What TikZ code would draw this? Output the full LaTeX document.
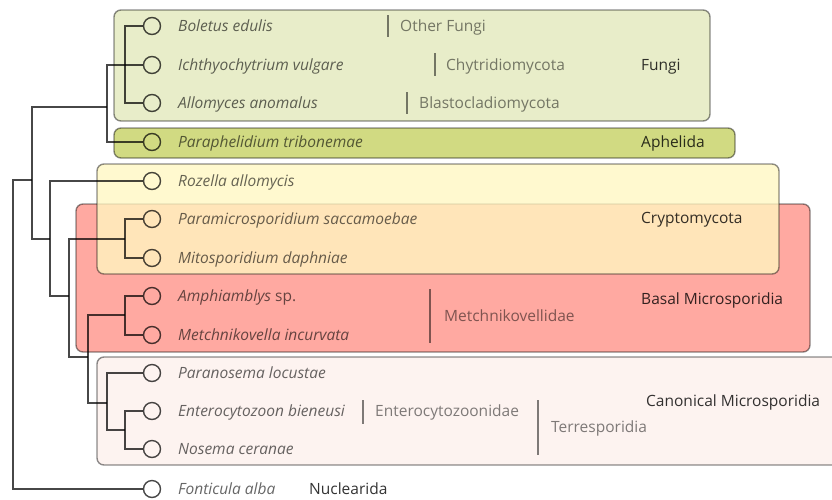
\documentclass[tikz,border=0pt]{standalone}
\usepackage{fontspec}
\setmainfont{Open Sans}
\definecolor{fungiC}{HTML}{E8EDC9}
\definecolor{aphC}{HTML}{D1DA82}
\definecolor{yelC}{HTML}{FFF7C1}
\definecolor{redC}{HTML}{FFA9A1}
\definecolor{canC}{HTML}{FDF3F0}
\begin{document}
\begin{tikzpicture}[x=1pt,y=-1pt,
  grp/.style={draw=black,draw opacity=0.45,line width=1.4pt,rounded corners=7pt},
  leaf/.style={circle,draw=black,draw opacity=0.72,line width=1.4pt,minimum size=17pt,inner sep=0pt},
  br/.style={draw=black,draw opacity=0.72,line width=1.4pt},
  bar/.style={draw=black,draw opacity=0.5,line width=1.4pt},
  sp/.style={anchor=base west,inner sep=0pt,font=\fontsize{15.5}{18}\selectfont\itshape,text=black,text opacity=0.6},
  sub/.style={anchor=base west,inner sep=0pt,font=\fontsize{15.5}{18}\selectfont,text=black,text opacity=0.5},
  gl/.style={anchor=base west,inner sep=0pt,font=\fontsize{15.5}{18}\selectfont,text=black,text opacity=0.8}]
\useasboundingbox (0,0) rectangle (832,499);
\clip (0,0) rectangle (832,499);
% group boxes
\path[grp,fill=redC] (76,204) rectangle (810,352);
\path[grp,fill=canC] (97,357) rectangle (850,465);
\path[grp,fill=fungiC] (114,10) rectangle (710,121);
\path[grp,fill=aphC] (114,128) rectangle (735,158);
\path[grp,fill=yelC,fill opacity=0.78] (97,164) rectangle (779,274);
% leaves
\node[leaf] (bol) at (152,26) {};
\node[leaf] (ich) at (152,65) {};
\node[leaf] (all) at (152,103) {};
\node[leaf] (par) at (152,142) {};
\node[leaf] (roz) at (152,181) {};
\node[leaf] (pms) at (152,219) {};
\node[leaf] (mit) at (152,258) {};
\node[leaf] (amp) at (152,296) {};
\node[leaf] (met) at (152,335) {};
\node[leaf] (pnl) at (152,373) {};
\node[leaf] (ent) at (152,411) {};
\node[leaf] (nos) at (152,449) {};
\node[leaf] (fon) at (152,489) {};
% internal points
\coordinate (n1) at (125,65);
\coordinate (n2) at (107,107);
\coordinate (n3) at (32,180);
\coordinate (root) at (13,180);
\coordinate (n4) at (50,239);
\coordinate (n5) at (69,296);
\coordinate (n6) at (125,239);
\coordinate (n7) at (88,357);
\coordinate (n8) at (125,315);
\coordinate (n9) at (107,403);
\coordinate (n10) at (125,430);
% branches
\draw[br] (bol.west) -| (n1) |- (all.west);
\draw[br] (ich.west) -| (n2) |- (par.west);
\draw[br] (n2) -| (n3) |- (n4);
\draw[br] (n3) -- (root) |- (fon.west);
\draw[br] (roz.west) -| (n4) |- (n5);
\draw[br] (n6) -| (n5) |- (n7);
\draw[br] (pms.west) -| (n6) |- (mit.west);
\draw[br] (n8) -| (n7) |- (n9);
\draw[br] (amp.west) -| (n8) |- (met.west);
\draw[br] (pnl.west) -| (n9) |- (n10);
\draw[br] (ent.west) -| (n10) |- (nos.west);
% species labels
\node[sp] (tbol) at (178,31) {Boletus edulis};
\node[sp] (tich) at (178,70) {Ichthyochytrium vulgare};
\node[sp] (tall) at (178,108) {Allomyces anomalus};
\node[sp] (tpar) at (178,147) {Paraphelidium tribonemae};
\node[sp] (troz) at (178,186) {Rozella allomycis};
\node[sp] (tpms) at (178,224) {Paramicrosporidium saccamoebae};
\node[sp] (tmit) at (178,263) {Mitosporidium daphniae};
\node[sp] (tamp) at (178,301) {Amphiamblys {\upshape sp.}};
\node[sp] (tmet) at (178,340) {Metchnikovella incurvata};
\node[sp] (tpnl) at (178,378) {Paranosema locustae};
\node[sp] (tent) at (178,416) {Enterocytozoon bieneusi};
\node[sp] (tnos) at (178,454) {Nosema ceranae};
\node[sp] (tfon) at (178,494) {Fonticula alba};
% sub-clade labels
\draw[bar] (388,15) -- (388,37);
\node[sub] (lof) at (400,31) {Other Fungi};
\draw[bar] (435,53) -- (435,76);
\node[sub] (lch) at (446,70) {Chytridiomycota};
\draw[bar] (407,92) -- (407,114);
\node[sub] (lbl) at (419,108) {Blastocladiomycota};
\draw[bar] (430,289) -- (430,343);
\node[sub] (lme) at (444,321) {Metchnikovellidae};
\draw[bar] (363,400) -- (363,424);
\node[sub] (len) at (375,416) {Enterocytozoonidae};
\draw[bar] (538,400) -- (538,455);
\node[sub] (lte) at (551,432) {Terresporidia};
% group labels
\node[gl] (gfu) at (641,70) {Fungi};
\node[gl] (gap) at (641,147) {Aphelida};
\node[gl] (gcr) at (641,223) {Cryptomycota};
\node[gl] (gba) at (641,304) {Basal Microsporidia};
\node[gl] (gca) at (646,406) {Canonical Microsporidia};
\node[gl] (gnu) at (309,494) {Nuclearida};
\end{tikzpicture}
\end{document}
